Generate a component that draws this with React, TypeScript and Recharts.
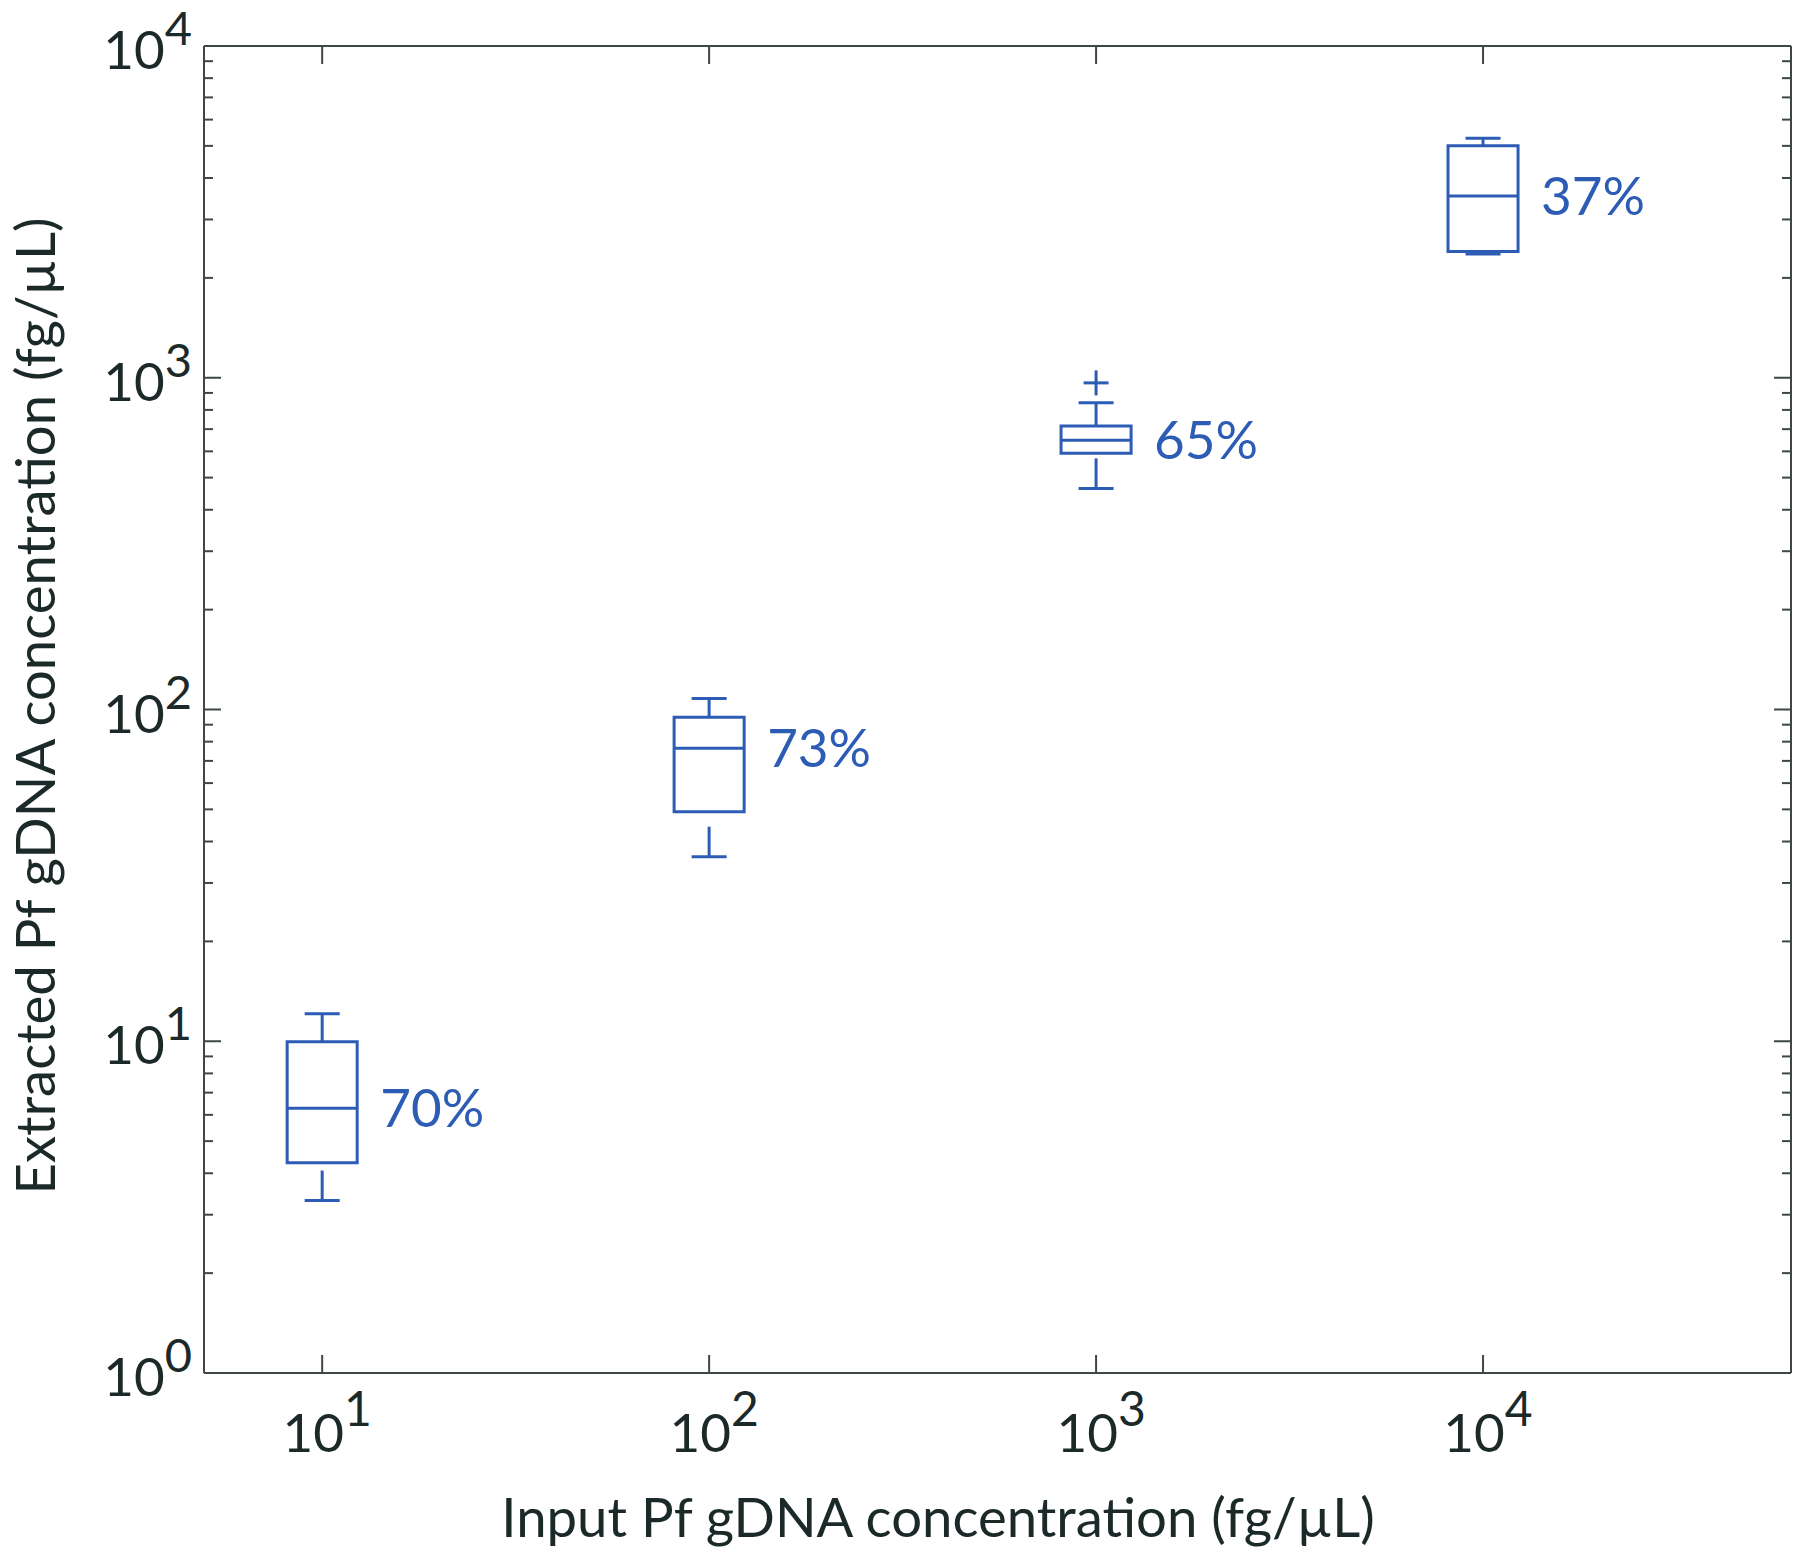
import React from "react";
import {
  ComposedChart,
  XAxis,
  YAxis,
  Scatter,
  ReferenceArea,
  ReferenceLine,
} from "recharts";

// input concentration (fg/µL) of each group
const inputConc = [10, 100, 1000, 10000];
// box plot stats of extracted concentration (fg/µL)
const upperWhisker = [12.1, 108, 841, 5270];
const q3 = [9.97, 94.8, 716, 5000];
const median = [6.28, 76.4, 648, 3530];
const q1 = [4.3, 49.2, 592, 2400];
const lowerWhisker = [3.31, 36, 464, 2360];
const recovery = ["70%", "73%", "65%", "37%"];

const outlierX = [1000];
const outlierY = [965];

const xTicks = [10, 100, 1000, 10000];
const yMajorTicks = [1, 10, 100, 1000, 10000];
const minorSteps = [2, 3, 4, 5, 6, 7, 8, 9];

const X_DOMAIN = [4.95, 62500];
const Y_DOMAIN = [1, 10000];

const W = 1800;
const H = 1553;
const PLOT_LEFT = 204;
const PLOT_TOP = 46;
const PLOT_RIGHT = 1791;
const PLOT_BOTTOM = 1373;

const BLUE = "#2d5cb5";
const AXIS = "#3f4646";
const TEXT = "#1c2929";
const FONT = "Lato, 'Open Sans', sans-serif";

// box half width ~0.09 decade, caps half of that
const BOX_F = Math.pow(10, 0.0905);
const CAP_F = Math.sqrt(BOX_F);

const yTicks = yMajorTicks.flatMap((d, i) =>
  i === yMajorTicks.length - 1 ? [d] : [d, ...minorSteps.map((m) => m * d)]
);

const exp10 = (v: number) => Math.round(Math.log10(v));

const XTick = ({ payload }: any) => {
  const cx = payload.coordinate;
  return (
    <g>
      <line x1={cx} y1={PLOT_BOTTOM} x2={cx} y2={PLOT_BOTTOM - 18} stroke={AXIS} strokeWidth={2} />
      <line x1={cx} y1={PLOT_TOP} x2={cx} y2={PLOT_TOP + 18} stroke={AXIS} strokeWidth={2} />
      <text x={cx + 5} y={PLOT_BOTTOM + 79} textAnchor="middle" fill={TEXT} fontFamily={FONT} fontSize={53}>
        10<tspan dy={-26} fontSize={48}>{exp10(payload.value)}</tspan>
      </text>
    </g>
  );
};

const YTick = ({ payload }: any) => {
  const cy = payload.coordinate;
  const major = yMajorTicks.includes(payload.value);
  const len = major ? 17 : 9;
  return (
    <g>
      <line x1={PLOT_LEFT} y1={cy} x2={PLOT_LEFT + len} y2={cy} stroke={AXIS} strokeWidth={2} />
      <line x1={PLOT_RIGHT} y1={cy} x2={PLOT_RIGHT - len} y2={cy} stroke={AXIS} strokeWidth={2} />
      {major && (
        <text x={PLOT_LEFT - 12} y={cy + 23} textAnchor="end" fill={TEXT} fontFamily={FONT} fontSize={53}>
          10<tspan dy={-24} fontSize={47}>{exp10(payload.value)}</tspan>
        </text>
      )}
    </g>
  );
};

const XLabel = () => (
  <text x={938} y={1537} textAnchor="middle" fill={TEXT} fontFamily={FONT} fontSize={54.5}>
    Input Pf gDNA concentration (fg/µL)
  </text>
);

const YLabel = () => (
  <text
    x={55}
    y={706}
    transform="rotate(-90 55 706)"
    textAnchor="middle"
    fill={TEXT}
    fontFamily={FONT}
    fontSize={54.5}
  >
    Extracted Pf gDNA concentration (fg/µL)
  </text>
);

const PercentLabel = (props: any) => {
  const { cx, cy, payload } = props;
  return (
    <text x={cx + 58} y={cy + 19} fill={BLUE} fontFamily={FONT} fontSize={53}>
      {payload.label}
    </text>
  );
};

const PlusMarker = (props: any) => {
  const { cx, cy } = props;
  return (
    <g stroke={BLUE} strokeWidth={3}>
      <line x1={cx - 12.5} y1={cy} x2={cx + 12.5} y2={cy} />
      <line x1={cx} y1={cy - 12.5} x2={cx} y2={cy + 12.5} />
    </g>
  );
};

const App = () => {
  const labelData = inputConc.map((x, i) => ({ x, y: median[i], label: recovery[i] }));
  const outlierData = outlierX.map((x, i) => ({ x, y: outlierY[i] }));

  const boxes = inputConc.map((x, i) => (
    <ReferenceArea
      key={`box-${i}`}
      x1={x / BOX_F}
      x2={x * BOX_F}
      y1={q1[i]}
      y2={q3[i]}
      fill="none"
      fillOpacity={0}
      stroke={BLUE}
      strokeWidth={3}
    />
  ));

  const lines = inputConc.flatMap((x, i) => [
    <ReferenceLine
      key={`med-${i}`}
      segment={[{ x: x / BOX_F, y: median[i] }, { x: x * BOX_F, y: median[i] }]}
      stroke={BLUE}
      strokeWidth={3}
    />,
    <ReferenceLine
      key={`uw-${i}`}
      segment={[{ x, y: upperWhisker[i] }, { x, y: q3[i] }]}
      stroke={BLUE}
      strokeWidth={3}
      strokeDasharray="30 20"
    />,
    <ReferenceLine
      key={`lw-${i}`}
      segment={[{ x, y: lowerWhisker[i] }, { x, y: q1[i] }]}
      stroke={BLUE}
      strokeWidth={3}
      strokeDasharray="30 20"
    />,
    <ReferenceLine
      key={`uc-${i}`}
      segment={[{ x: x / CAP_F, y: upperWhisker[i] }, { x: x * CAP_F, y: upperWhisker[i] }]}
      stroke={BLUE}
      strokeWidth={3}
    />,
    <ReferenceLine
      key={`lc-${i}`}
      segment={[{ x: x / CAP_F, y: lowerWhisker[i] }, { x: x * CAP_F, y: lowerWhisker[i] }]}
      stroke={BLUE}
      strokeWidth={3}
    />,
  ]);

  return (
    <div style={{ position: "absolute", left: 0, top: 0, width: W, height: H, background: "#fff" }}>
      <ComposedChart
        width={W}
        height={H}
        margin={{ top: PLOT_TOP, right: W - PLOT_RIGHT, left: 0, bottom: 0 }}
      >
        <XAxis
          dataKey="x"
          type="number"
          scale="log"
          domain={X_DOMAIN}
          allowDataOverflow
          ticks={xTicks}
          interval={0}
          height={H - PLOT_BOTTOM}
          tickSize={0}
          tickLine={false}
          tick={<XTick />}
          axisLine={{ stroke: AXIS, strokeWidth: 2 }}
          label={<XLabel />}
        />
        <YAxis
          dataKey="y"
          type="number"
          scale="log"
          domain={Y_DOMAIN}
          allowDataOverflow
          ticks={yTicks}
          interval={0}
          width={PLOT_LEFT}
          tickSize={0}
          tickLine={false}
          tick={<YTick />}
          axisLine={{ stroke: AXIS, strokeWidth: 2 }}
          label={<YLabel />}
        />
        <ReferenceLine y={Y_DOMAIN[1]} stroke={AXIS} strokeWidth={2} />
        <ReferenceLine x={X_DOMAIN[1]} stroke={AXIS} strokeWidth={2} />
        {boxes}
        {lines}
        <Scatter data={outlierData} shape={<PlusMarker />} isAnimationActive={false} />
        <Scatter data={labelData} shape={<PercentLabel />} isAnimationActive={false} />
      </ComposedChart>
    </div>
  );
};

export default App;
